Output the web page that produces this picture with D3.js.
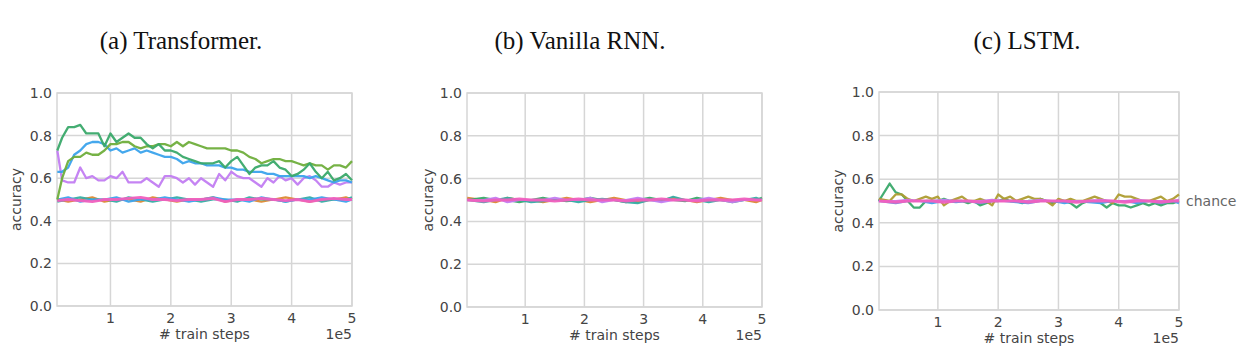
<!DOCTYPE html>
<html>
<head>
<meta charset="utf-8">
<script src="https://cdn.jsdelivr.net/npm/d3@7"></script>
<style>
  body { margin: 0; background: #fff; }
  .tick-label { font-family: "DejaVu Sans", sans-serif; font-size: 14px; fill: #444; }
  .axis-label { font-family: "DejaVu Sans", sans-serif; font-size: 14px; fill: #444; }
  .title { font-family: "Liberation Serif", "Times New Roman", serif; font-size: 25px; fill: #111; }
</style>
</head>
<body>
<script>
// x positions in units of 1e5 train steps
var stepsA = [0.12,0.2,0.3,0.4,0.5,0.6,0.7,0.8,0.9,1.0,1.1,1.2,1.3,1.4,1.5,1.6,1.7,1.8,1.9,2.0,2.1,2.2,2.3,2.4,2.5,2.6,2.7,2.8,2.9,3.0,3.1,3.2,3.3,3.4,3.5,3.6,3.7,3.8,3.9,4.0,4.1,4.2,4.3,4.4,4.5,4.6,4.7,4.8,4.9,5.0];
var stepsC = [0.02,0.2,0.3,0.4,0.5,0.6,0.7,0.8,0.9,1.0,1.1,1.2,1.3,1.4,1.5,1.6,1.7,1.8,1.9,2.0,2.1,2.2,2.3,2.4,2.5,2.6,2.7,2.8,2.9,3.0,3.1,3.2,3.3,3.4,3.5,3.6,3.7,3.8,3.9,4.0,4.1,4.2,4.3,4.4,4.5,4.6,4.7,4.8,4.9,5.0];
var flatStepsA = [0.12,0.3,0.5,0.7,0.9,1.1,1.3,1.5,1.7,1.9,2.1,2.3,2.5,2.7,2.9,3.1,3.3,3.5,3.7,3.9,4.1,4.3,4.5,4.7,4.9,5.0];
var flatStepsBC = [0.02,0.3,0.5,0.7,0.9,1.1,1.3,1.5,1.7,1.9,2.1,2.3,2.5,2.7,2.9,3.1,3.3,3.5,3.7,3.9,4.1,4.3,4.5,4.7,4.9,5.0];

var yTicks = [0, 0.2, 0.4, 0.6, 0.8, 1.0];
var xTicks = [1, 2, 3, 4, 5];

// (a) Transformer
var trGreenA = [0.73,0.79,0.84,0.84,0.85,0.81,0.81,0.81,0.75,0.81,0.77,0.79,0.81,0.79,0.79,0.76,0.74,0.76,0.73,0.73,0.72,0.70,0.69,0.68,0.67,0.67,0.67,0.68,0.65,0.68,0.70,0.66,0.62,0.65,0.66,0.66,0.68,0.65,0.64,0.61,0.62,0.64,0.67,0.63,0.60,0.63,0.59,0.60,0.62,0.59];
var trGreenB = [0.50,0.60,0.68,0.70,0.70,0.72,0.71,0.71,0.73,0.76,0.76,0.77,0.77,0.75,0.74,0.75,0.75,0.76,0.76,0.75,0.77,0.75,0.77,0.76,0.75,0.74,0.74,0.74,0.74,0.73,0.73,0.72,0.70,0.69,0.67,0.68,0.69,0.69,0.68,0.68,0.67,0.66,0.67,0.66,0.66,0.64,0.66,0.66,0.65,0.68];
var trBlue = [0.63,0.63,0.65,0.71,0.73,0.76,0.77,0.77,0.76,0.73,0.74,0.72,0.73,0.74,0.72,0.73,0.72,0.71,0.70,0.70,0.69,0.67,0.68,0.67,0.67,0.66,0.66,0.66,0.65,0.65,0.64,0.64,0.63,0.63,0.63,0.62,0.62,0.61,0.61,0.61,0.61,0.61,0.60,0.61,0.60,0.59,0.58,0.59,0.59,0.58];
var trPurple = [0.73,0.59,0.58,0.58,0.65,0.60,0.61,0.59,0.59,0.61,0.60,0.63,0.58,0.58,0.58,0.60,0.58,0.56,0.61,0.61,0.60,0.58,0.60,0.57,0.60,0.58,0.56,0.62,0.59,0.63,0.61,0.60,0.60,0.58,0.56,0.60,0.58,0.61,0.59,0.60,0.57,0.60,0.61,0.59,0.56,0.56,0.58,0.57,0.58,0.58];
var trOrange = [0.50,0.49,0.50,0.51,0.49,0.50,0.50,0.49,0.51,0.50,0.49,0.50,0.50,0.51,0.49,0.50,0.50,0.49,0.50,0.51,0.50,0.49,0.50,0.50,0.51,0.50];
var trTeal = [0.49,0.50,0.51,0.50,0.50,0.49,0.51,0.50,0.49,0.50,0.51,0.50,0.49,0.50,0.50,0.49,0.51,0.50,0.50,0.49,0.50,0.51,0.49,0.50,0.50,0.51];
var trFlatBlue = [0.50,0.51,0.49,0.50,0.50,0.51,0.49,0.50,0.50,0.51,0.50,0.49,0.50,0.51,0.50,0.50,0.49,0.51,0.50,0.49,0.50,0.50,0.51,0.50,0.49,0.50];
var trPink = [0.495,0.50,0.495,0.49,0.50,0.50,0.505,0.51,0.50,0.50,0.495,0.50,0.50,0.505,0.49,0.50,0.50,0.505,0.50,0.495,0.50,0.49,0.50,0.505,0.50,0.50];

// (b) Vanilla RNN
var rnnOrange = [0.51,0.50,0.49,0.51,0.50,0.50,0.49,0.50,0.51,0.50,0.49,0.50,0.51,0.50,0.49,0.50,0.50,0.51,0.50,0.49,0.50,0.51,0.50,0.50,0.49,0.50];
var rnnTeal = [0.50,0.49,0.50,0.51,0.50,0.49,0.495,0.50,0.50,0.49,0.50,0.505,0.50,0.49,0.485,0.50,0.495,0.515,0.50,0.50,0.49,0.50,0.495,0.50,0.51,0.50];
var rnnGreen = [0.50,0.51,0.50,0.50,0.49,0.50,0.51,0.50,0.495,0.50,0.51,0.50,0.50,0.49,0.50,0.51,0.50,0.50,0.495,0.51,0.50,0.50,0.49,0.50,0.50,0.51];
var rnnPurple = [0.50,0.50,0.51,0.49,0.50,0.50,0.50,0.51,0.50,0.50,0.51,0.49,0.50,0.50,0.51,0.50,0.49,0.50,0.50,0.50,0.51,0.50,0.49,0.50,0.50,0.50];
var rnnPink = [0.50,0.495,0.50,0.50,0.505,0.50,0.50,0.495,0.50,0.505,0.50,0.50,0.50,0.495,0.50,0.50,0.505,0.50,0.50,0.495,0.50,0.50,0.50,0.505,0.50,0.50];

// (c) LSTM
var lstmGreen = [0.50,0.58,0.54,0.53,0.50,0.47,0.47,0.50,0.50,0.50,0.51,0.50,0.50,0.50,0.49,0.50,0.48,0.49,0.50,0.50,0.51,0.50,0.50,0.49,0.50,0.50,0.51,0.50,0.49,0.50,0.50,0.49,0.47,0.49,0.50,0.50,0.49,0.47,0.49,0.48,0.48,0.47,0.48,0.49,0.48,0.49,0.48,0.49,0.49,0.50];
var lstmOlive = [0.51,0.50,0.53,0.53,0.51,0.50,0.51,0.52,0.51,0.52,0.48,0.50,0.51,0.52,0.50,0.50,0.51,0.50,0.48,0.53,0.51,0.52,0.50,0.51,0.52,0.51,0.51,0.50,0.48,0.51,0.50,0.51,0.50,0.50,0.51,0.52,0.51,0.50,0.49,0.53,0.52,0.52,0.51,0.50,0.50,0.51,0.52,0.50,0.51,0.53];
var lstmBlue = [0.50,0.49,0.50,0.50,0.49,0.50,0.495,0.50,0.49,0.50,0.50,0.495,0.49,0.50,0.50,0.49,0.50,0.495,0.49,0.50,0.50,0.49,0.50,0.49,0.50,0.49];
var lstmPurple = [0.50,0.50,0.505,0.50,0.50,0.505,0.50,0.50,0.50,0.505,0.50,0.50,0.50,0.505,0.50,0.50,0.50,0.50,0.505,0.50,0.50,0.505,0.50,0.50,0.50,0.505];
var lstmPink = [0.50,0.495,0.50,0.50,0.50,0.495,0.50,0.50,0.495,0.50,0.50,0.50,0.495,0.50,0.50,0.50,0.495,0.50,0.50,0.50,0.495,0.50,0.50,0.495,0.50,0.50];

var colors = {
  greenA: "#3aa96a", greenB: "#6fae3c", blue: "#3ba3ec", purple: "#c27df2",
  orange: "#dc8932", teal: "#36ada4", pink: "#f05fbf", olive: "#ae9d31"
};

function zip(xs, ys) {
  return xs.map(function(x, i) { return { x: x, y: ys[i] }; });
}

var panels = [
  { title: "(a) Transformer.", titleX: 181, left: 57, right: 352, top: 93, bottom: 306, xMin: 0.115,
    ylabelX: 16, chance: false,
    series: [
      { d: zip(flatStepsA, trOrange), c: colors.orange, w: 2.2 },
      { d: zip(flatStepsA, trTeal), c: colors.teal, w: 2.2 },
      { d: zip(flatStepsA, trFlatBlue), c: colors.blue, w: 2.2 },
      { d: zip(flatStepsA, trPink), c: colors.pink, w: 2.8 },
      { d: zip(stepsA, trPurple), c: colors.purple, w: 2.3 },
      { d: zip(stepsA, trBlue), c: colors.blue, w: 2.3 },
      { d: zip(stepsA, trGreenB), c: colors.greenB, w: 2.3 },
      { d: zip(stepsA, trGreenA), c: colors.greenA, w: 2.3 }
    ] },
  { title: "(b) Vanilla RNN.", titleX: 580, left: 467, right: 762, top: 93, bottom: 307, xMin: 0.017,
    ylabelX: 428, chance: false,
    series: [
      { d: zip(flatStepsBC, rnnOrange), c: colors.orange, w: 2.2 },
      { d: zip(flatStepsBC, rnnGreen), c: colors.greenA, w: 2.2 },
      { d: zip(flatStepsBC, rnnTeal), c: colors.teal, w: 2.2 },
      { d: zip(flatStepsBC, rnnPurple), c: colors.purple, w: 2.2 },
      { d: zip(flatStepsBC, rnnPink), c: colors.pink, w: 3 }
    ] },
  { title: "(c) LSTM.", titleX: 1027, left: 879, right: 1179, top: 92, bottom: 310, xMin: 0.023,
    ylabelX: 838, chance: true,
    series: [
      { d: zip(stepsC, lstmGreen), c: colors.greenA, w: 2.3 },
      { d: zip(stepsC, lstmOlive), c: colors.olive, w: 2.3 },
      { d: zip(flatStepsBC, lstmBlue), c: colors.blue, w: 2.2 },
      { d: zip(flatStepsBC, lstmPurple), c: colors.purple, w: 2.2 },
      { d: zip(flatStepsBC, lstmPink), c: colors.pink, w: 3.2 }
    ] }
];

var svg = d3.select("body").append("svg")
  .attr("width", 1260)
  .attr("height", 354);

panels.forEach(function(p) {
  var x = d3.scaleLinear().domain([p.xMin, 5]).range([p.left, p.right]);
  var y = d3.scaleLinear().domain([0, 1]).range([p.bottom, p.top]);
  var g = svg.append("g");

  // title
  g.append("text").attr("class", "title")
    .attr("x", p.titleX).attr("y", 49)
    .attr("text-anchor", "middle")
    .text(p.title);

  // grid
  g.selectAll(".hgrid").data(yTicks).enter().append("line")
    .attr("x1", p.left).attr("x2", p.right)
    .attr("y1", function(d) { return y(d); }).attr("y2", function(d) { return y(d); })
    .attr("stroke", "#d6d6d6").attr("stroke-width", 1.5);
  g.selectAll(".vgrid").data(xTicks).enter().append("line")
    .attr("x1", function(d) { return x(d); }).attr("x2", function(d) { return x(d); })
    .attr("y1", p.top).attr("y2", p.bottom)
    .attr("stroke", "#d6d6d6").attr("stroke-width", 1.5);
  g.append("rect")
    .attr("x", p.left).attr("y", p.top)
    .attr("width", p.right - p.left).attr("height", p.bottom - p.top)
    .attr("fill", "none").attr("stroke", "#d6d6d6").attr("stroke-width", 1.5);

  // tick labels
  g.selectAll(".ylab").data(yTicks).enter().append("text")
    .attr("class", "tick-label")
    .attr("x", p.left - 5)
    .attr("y", function(d) { return y(d) + 5; })
    .attr("text-anchor", "end")
    .text(function(d) { return d.toFixed(1); });
  g.selectAll(".xlab").data(xTicks).enter().append("text")
    .attr("class", "tick-label")
    .attr("x", function(d) { return x(d); })
    .attr("y", p.bottom + 17)
    .attr("text-anchor", "middle")
    .text(function(d) { return d; });

  g.append("text").attr("class", "axis-label")
    .attr("x", (p.left + p.right) / 2).attr("y", p.bottom + 33)
    .attr("text-anchor", "middle")
    .text("# train steps");
  g.append("text").attr("class", "axis-label")
    .attr("x", p.right).attr("y", p.bottom + 33)
    .attr("text-anchor", "end")
    .text("1e5");
  g.append("text").attr("class", "axis-label")
    .attr("transform", "translate(" + p.ylabelX + "," + ((p.top + p.bottom) / 2) + ") rotate(-90)")
    .attr("text-anchor", "middle")
    .attr("dy", "0.35em")
    .text("accuracy");

  // lines
  var line = d3.line()
    .x(function(d) { return x(d.x); })
    .y(function(d) { return y(d.y); });
  g.selectAll(".series").data(p.series).enter().append("path")
    .attr("d", function(s) { return line(s.d); })
    .attr("fill", "none")
    .attr("stroke", function(s) { return s.c; })
    .attr("stroke-width", function(s) { return s.w; })
    .attr("stroke-linejoin", "round")
    .attr("opacity", 0.95);

  if (p.chance) {
    g.append("text").attr("class", "axis-label")
      .attr("x", p.right + 7).attr("y", y(0.5) + 5)
      .style("fill", "#666")
      .text("chance");
  }
});
</script>
</body>
</html>
